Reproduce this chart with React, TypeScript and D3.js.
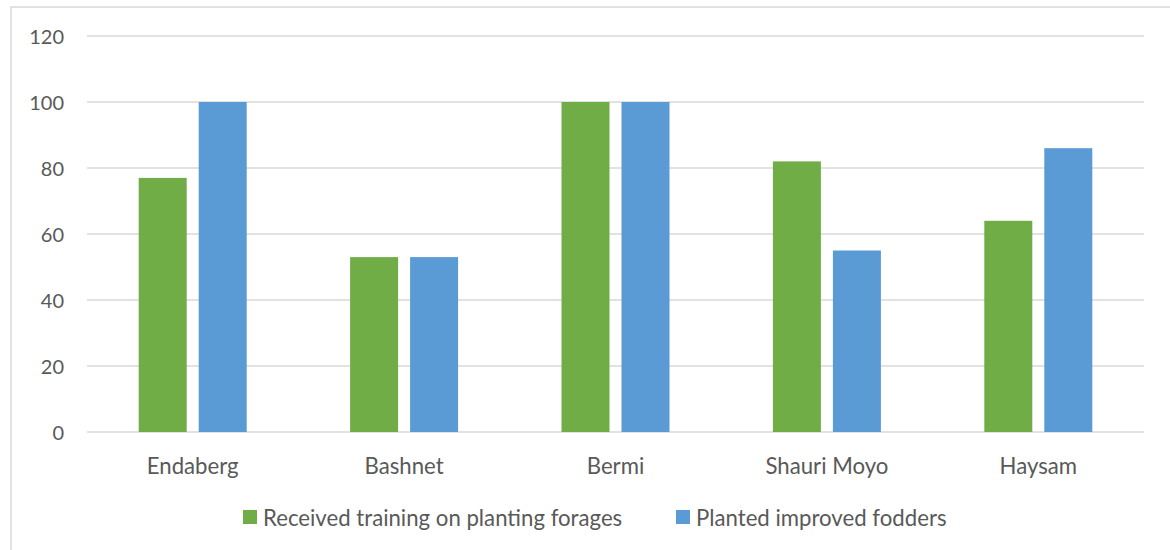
import React from "react";
import * as d3 from "d3";

const categories = ["Endaberg", "Bashnet", "Bermi", "Shauri Moyo", "Haysam"];
const seriesNames = ["Received training on planting forages", "Planted improved fodders"];
const training = [77, 53, 100, 82, 64];
const planted = [100, 53, 100, 55, 86];
const yTicks = [0, 20, 40, 60, 80, 100, 120];
const colors = ["#70AD47", "#5B9BD5"];

const W = 1170;
const H = 550;
const plot = { left: 87, right: 1144, top: 36, bottom: 432 };
const FONT = "Lato, 'Open Sans', 'Liberation Sans', sans-serif";

export default function App() {
  const x = d3.scaleBand<string>().domain(categories).range([plot.left, plot.right]).paddingInner(0).paddingOuter(0);
  const y = d3.scaleLinear().domain([0, 120]).range([plot.bottom, plot.top]);
  const barW = 48;
  const gap = 12;
  const series = [training, planted];

  return (
    <svg
      width={W}
      height={H}
      style={{ position: "absolute", left: 0, top: 0, background: "#fff" }}
      fontFamily={FONT}
    >
      <rect x={11} y={7} width={W + 20} height={H + 20} fill="#fff" stroke="#d9d9d9" strokeWidth={1.5} />
      {yTicks.map((t) => (
        <g key={t}>
          <line x1={plot.left} x2={plot.right} y1={y(t)} y2={y(t)} stroke="#d9d9d9" strokeWidth={1.3} />
          <text x={64} y={y(t)} textAnchor="end" dominantBaseline="central" fontSize={20} fill="#595959">
            {t}
          </text>
        </g>
      ))}
      {categories.map((c, i) => {
        const cx = (x(c) as number) + x.bandwidth() / 2;
        return (
          <g key={c}>
            {series.map((s, si) => {
              const bx = si === 0 ? cx - gap / 2 - barW : cx + gap / 2;
              return (
                <rect
                  key={si}
                  x={bx}
                  y={y(s[i])}
                  width={barW}
                  height={y(0) - y(s[i])}
                  fill={colors[si]}
                />
              );
            })}
            <text x={cx} y={465} textAnchor="middle" dominantBaseline="central" fontSize={22.2} fill="#595959">
              {c}
            </text>
          </g>
        );
      })}
      {seriesNames.map((n, si) => {
        const lx = si === 0 ? 243 : 676;
        return (
          <g key={n}>
            <rect x={lx} y={510} width={14} height={14} fill={colors[si]} />
            <text x={lx + 20} y={517} dominantBaseline="central" fontSize={22.2} fill="#595959">
              {n}
            </text>
          </g>
        );
      })}
    </svg>
  );
}
